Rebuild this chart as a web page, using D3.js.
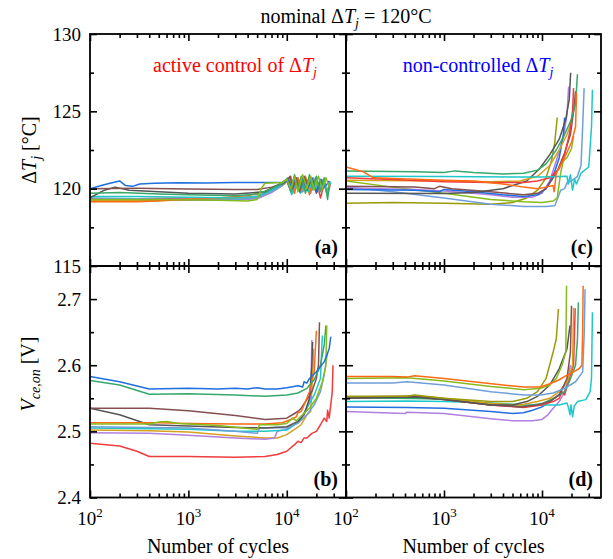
<!DOCTYPE html>
<html><head><meta charset="utf-8">
<script src="https://cdn.jsdelivr.net/npm/d3@7"></script>
<style>body{margin:0;background:#fff} svg text, svg tspan{font-family:"Liberation Serif","Times New Roman",serif !important}</style>
</head><body><svg id="c" width="613" height="559" font-family="Liberation Serif"></svg>
<script>
// ---------- data: [cycles, value] ----------
// (a) active control, ΔTj [°C]
const a_blue=[[100,120.0],[130,120.2],[160,120.35],[200,120.5],[230,120.2],[270,120.15],[320,120.3],[450,120.35],[800,120.38],[1500,120.37],[3000,120.4],[6000,120.4],[9000,120.42],[10500,120.55],[11000,120.1],[12000,120.7],[13000,119.9],[14500,120.6],[16000,120.0],[18000,120.7],[20000,119.8],[22000,120.6],[24500,120.1],[27000,120.5]];
const a_brown=[[100,120.0],[300,120.02],[1000,119.98],[3000,119.95],[5000,119.95],[7000,120.1],[9000,120.3],[10000,120.5],[10800,120.8],[11500,120.0],[12500,120.7],[13500,119.8],[15000,120.8],[16500,120.1],[18000,120.6],[20000,119.7],[22000,120.5],[23500,120.0]];
const a_grey=[[100,119.4],[140,119.9],[180,120.1],[250,119.9],[500,119.8],[1000,119.7],[3000,119.65],[6000,119.8],[8500,120.3],[10000,120.6],[11000,119.9],[12000,120.8],[13000,120.0],[14500,120.7],[16000,119.9],[17500,120.6],[19000,120.1]];
const a_green=[[100,119.7],[200,119.75],[500,119.65],[1000,119.6],[3000,119.55],[5000,119.65],[7000,120.0],[9000,120.35],[10000,120.6],[11000,119.8],[12000,120.9],[13000,119.9],[14000,120.8],[15500,119.7],[17000,120.9],[18500,120.0],[20000,120.8],[22000,119.8],[24000,120.7],[26000,119.3],[27000,120.2]];
const a_cyan=[[100,119.5],[300,119.5],[1000,119.45],[3000,119.4],[5000,119.5],[7000,119.9],[9000,120.3],[10200,120.7],[11200,119.6],[12300,120.6],[13800,119.7],[15000,120.5],[16500,119.8],[18500,120.6],[20500,119.9],[23000,120.5],[25500,119.8],[28000,120.4]];
const a_steel=[[100,119.4],[300,119.35],[1000,119.3],[3000,119.3],[5000,119.4],[7000,119.8],[9000,120.2],[10500,120.6],[11500,119.7],[13000,120.7],[14500,119.8],[16000,120.6],[17500,119.7],[19500,120.7],[21500,120.0],[23500,120.6],[25500,119.7],[27500,120.5]];
const a_purple=[[100,119.3],[300,119.3],[1000,119.25],[3000,119.25],[5000,119.35],[7000,119.75],[9000,120.2],[10000,120.5],[11000,119.8],[12500,120.6],[14000,119.9],[15500,120.7],[17000,120.0],[19000,120.6],[21000,119.8],[23000,120.4]];
const a_gold=[[100,119.25],[400,119.2],[1000,119.3],[3000,119.35],[5500,119.5],[7500,119.9],[9500,120.3],[10500,120.6],[11500,119.9],[12500,120.7],[14000,119.8],[15500,120.6],[17500,119.9],[19500,120.5],[22000,119.9],[24000,120.5]];
const a_orange=[[100,119.15],[300,119.15],[1000,119.3],[2000,119.4],[4000,119.55],[6000,119.8],[8000,120.2],[10000,120.5],[11000,120.8],[12000,119.7],[13000,120.7],[14200,119.9],[15500,120.8],[17000,119.6],[18500,120.7],[20500,119.8],[22500,120.6],[25000,120.0]];
const a_lime=[[100,119.3],[500,119.3],[2000,119.25],[4000,119.2],[5000,119.3],[5500,120.0],[6000,120.35],[9000,120.4],[10000,120.6],[11000,120.0],[12000,120.8],[13000,119.8],[14500,120.9],[16000,120.0],[17500,120.8],[19000,119.9],[21000,120.8],[23000,120.0],[25000,120.7],[27000,120.1]];
const a_red=[[100,119.35],[300,119.35],[1000,119.4],[3000,119.4],[5000,119.5],[7000,119.9],[9000,120.25],[10500,120.6],[11500,119.9],[13000,120.6],[14500,119.8],[16000,120.5],[18000,120.0],[20000,120.6],[22000,119.4],[24000,120.3],[26000,119.6],[28000,120.4]];
const a_olive=[[100,119.2],[300,119.2],[1000,119.3],[3000,119.35],[5000,119.45],[7000,119.85],[9000,120.25],[10000,120.5],[11000,119.9],[12500,120.6],[14000,119.8],[16000,120.5],[18000,119.9],[20000,120.4]];

// (c) non-controlled, ΔTj [°C]
const c_orange=[[100,121.4],[150,121.1],[190,120.7],[300,120.65],[1000,120.55],[2000,120.5],[4000,120.3],[6500,120.1],[9000,120.0],[11000,120.1],[13000,120.2],[13300,119.8],[14000,121.0],[17000,122.0],[20000,123.0],[22000,124.0],[22500,126.2]];
const c_green=[[100,121.15],[500,121.1],[1000,121.05],[1300,121.15],[2000,121.05],[4000,120.95],[6500,121.0],[9000,121.2],[11000,121.6],[14000,122.5],[17000,123.5],[20000,124.5],[22000,125.5],[23000,127.4]];
const c_cyan=[[100,120.8],[1000,120.78],[5000,120.75],[10000,120.75],[15000,120.78],[18000,120.8],[18500,120.3],[19500,120.9],[20500,119.9],[21500,120.6],[22500,120.3],[25000,121.0],[30000,121.4],[32000,124.0],[32700,126.4]];
const c_red=[[100,120.7],[300,120.6],[1000,120.45],[3000,120.4],[6500,120.4],[9000,120.5],[12000,120.7],[15000,121.3],[17000,122.2],[19000,123.5],[20500,125.0],[21000,126.5]];
const c_gold=[[100,120.55],[1000,120.5],[3000,120.45],[6000,120.5],[9000,120.8],[12000,121.5],[15000,122.5],[18000,123.5],[20000,124.3]];
const c_brown=[[100,120.15],[500,120.1],[800,120.0],[900,120.15],[1200,120.0],[3000,119.8],[6500,119.6],[9000,119.7],[11000,120.0],[14000,121.0],[17000,122.3],[19500,123.5],[21000,125.0],[22000,126.3]];
const c_blue=[[100,119.95],[500,119.9],[900,119.8],[1000,119.95],[2000,119.8],[4000,119.6],[6500,119.5],[9000,119.6],[11000,120.0],[13000,120.8],[15000,122.0],[16500,123.5],[17000,124.6]];
const c_grey=[[100,119.7],[1000,119.68],[2000,119.75],[4000,120.0],[7000,120.5],[9500,121.3],[12000,122.2],[15000,123.2],[17500,124.5],[19000,125.8],[19600,127.5]];
const c_purple=[[100,120.05],[500,119.95],[1000,119.85],[3000,119.6],[5000,119.45],[8000,119.45],[10000,119.7],[12000,120.5],[14000,121.8],[16500,123.3],[18000,124.8],[18700,126.6]];
const c_lime=[[100,120.5],[300,120.1],[1000,119.7],[3000,119.3],[6500,119.15],[10000,119.1],[13000,119.2],[14300,119.4],[15500,121.0],[16500,121.8],[18000,122.0],[20000,122.6],[21000,123.4]];
const c_steel=[[100,120.1],[300,119.8],[1000,119.4],[3000,119.0],[6500,118.85],[11000,118.85],[13500,118.9],[14300,119.3],[15500,119.9],[17000,120.0],[18000,120.4],[20000,120.5],[23000,120.8],[25000,121.5],[26000,124.0],[26900,126.5]];
const c_olive=[[100,119.05],[300,119.1],[1000,119.05],[3000,119.0],[5000,119.1],[7000,119.4],[9000,119.9],[11000,120.7],[12500,121.8],[13500,123.0],[14300,124.6]];

// (b) active control, Vce,on [V]
const b_blue=[[100,2.583],[200,2.575],[400,2.564],[1000,2.565],[2000,2.564],[3000,2.565],[4000,2.564],[5000,2.566],[6000,2.564],[8000,2.564],[10000,2.566],[13000,2.569],[14500,2.567],[15000,2.575],[16000,2.573],[17000,2.58],[20000,2.59],[24000,2.605],[27000,2.625],[28000,2.643]];
const b_green=[[100,2.577],[200,2.57],[400,2.556],[1000,2.557],[3000,2.555],[6000,2.553],[10000,2.555],[13000,2.558],[16000,2.565],[19000,2.578],[22000,2.6],[24000,2.63],[25000,2.66]];
const b_brown=[[100,2.535],[400,2.535],[1000,2.531],[3000,2.524],[6000,2.518],[10000,2.52],[12000,2.527],[13000,2.53],[14000,2.535],[16000,2.548],[18000,2.56],[20000,2.58],[21000,2.6],[21500,2.665]];
const b_grey=[[100,2.535],[200,2.525],[400,2.51],[1000,2.508],[3000,2.506],[6000,2.505],[10000,2.507],[13000,2.515],[15000,2.525],[17000,2.55],[18000,2.6],[18300,2.635]];
const b_orange=[[100,2.513],[500,2.513],[1000,2.512],[3000,2.511],[6000,2.511],[9000,2.513],[11000,2.518],[12500,2.522],[13000,2.528],[14000,2.53],[15000,2.54],[17000,2.56],[19000,2.59],[20000,2.652]];
const b_lime=[[100,2.511],[400,2.511],[500,2.514],[600,2.515],[800,2.512],[2000,2.509],[5000,2.503],[5300,2.51],[8000,2.51],[10000,2.512],[11500,2.52],[12500,2.516],[14000,2.523],[17000,2.535],[20000,2.55],[23000,2.575],[25000,2.6],[25500,2.66]];
const b_steel=[[100,2.507],[400,2.506],[1000,2.505],[3000,2.5],[5000,2.497],[5300,2.505],[8000,2.506],[10000,2.505],[13000,2.512],[16000,2.525],[19000,2.54],[22000,2.56],[24000,2.585],[26000,2.62]];
const b_cyan=[[100,2.505],[400,2.504],[1000,2.503],[3000,2.5],[6000,2.5],[10000,2.502],[12000,2.51],[14000,2.52],[16000,2.535],[19000,2.555],[22000,2.58],[23000,2.645]];
const b_gold=[[100,2.502],[400,2.501],[1000,2.499],[3000,2.493],[6000,2.49],[8000,2.49],[10000,2.495],[12000,2.503],[14000,2.51],[16000,2.525],[17500,2.53],[18500,2.6],[18700,2.625]];
const b_purple=[[100,2.498],[400,2.497],[1000,2.494],[3000,2.49],[6000,2.488],[7500,2.49],[8000,2.5],[10000,2.503],[12000,2.51],[14000,2.52],[16000,2.535],[17500,2.55],[18000,2.638]];
const b_red=[[100,2.482],[200,2.478],[300,2.47],[400,2.462],[1000,2.462],[3000,2.461],[6000,2.462],[8000,2.465],[10000,2.47],[12000,2.48],[13000,2.485],[14000,2.483],[15000,2.49],[16000,2.49],[18000,2.497],[20000,2.5],[22000,2.51],[24000,2.52],[25500,2.515],[26000,2.532],[27000,2.52],[28000,2.54],[29000,2.56],[29500,2.6]];

// (d) non-controlled, Vce,on [V]
const d_orange=[[100,2.583],[300,2.583],[420,2.582],[500,2.584],[1000,2.58],[2000,2.575],[4000,2.57],[6500,2.567],[9700,2.567],[12000,2.572],[15000,2.578],[18000,2.585],[21000,2.59],[24000,2.595],[25500,2.6],[26000,2.65],[26300,2.72]];
const d_lime=[[100,2.58],[420,2.581],[1000,2.576],[3000,2.568],[6500,2.563],[9700,2.565],[12000,2.57],[14000,2.58],[16000,2.6],[17500,2.62],[17800,2.72]];
const d_steel=[[100,2.573],[300,2.573],[420,2.575],[1000,2.57],[3000,2.56],[6500,2.555],[9700,2.555],[13000,2.558],[17000,2.565],[22000,2.575],[26000,2.59],[27000,2.65],[27500,2.715]];
const d_olive=[[100,2.553],[420,2.553],[500,2.555],[1000,2.55],[3000,2.545],[5000,2.545],[7000,2.55],[9000,2.56],[11000,2.58],[13000,2.62],[14000,2.64],[14700,2.685]];
const d_grey=[[100,2.55],[500,2.552],[1000,2.548],[3000,2.54],[5000,2.54],[7000,2.545],[9000,2.553],[12000,2.57],[15000,2.595],[18000,2.625],[19300,2.66]];
const d_brown=[[100,2.552],[500,2.553],[1000,2.548],[3000,2.54],[6000,2.537],[9000,2.54],[12000,2.545],[15000,2.555],[18000,2.58],[19500,2.62],[20000,2.69]];
const d_gold=[[100,2.552],[500,2.553],[1000,2.55],[3000,2.542],[6000,2.54],[9000,2.545],[12000,2.55],[15000,2.56],[18000,2.575],[20500,2.6],[21000,2.687]];
const d_red=[[100,2.55],[500,2.551],[1000,2.548],[3000,2.54],[6500,2.536],[10000,2.54],[13000,2.545],[15000,2.55],[16000,2.56],[17000,2.555],[19000,2.58],[21000,2.6],[21800,2.686]];
const d_green=[[100,2.551],[1000,2.549],[3000,2.542],[6500,2.538],[10000,2.542],[14000,2.552],[17000,2.56],[19000,2.575],[22000,2.6],[23000,2.64],[23500,2.695]];
const d_cyan=[[100,2.545],[420,2.546],[1000,2.545],[3000,2.543],[6500,2.54],[10000,2.54],[15000,2.54],[18000,2.543],[18700,2.535],[19300,2.525],[19800,2.54],[20500,2.522],[21300,2.538],[23000,2.545],[28000,2.548],[31000,2.56],[32000,2.58],[32700,2.68]];
const d_blue=[[100,2.537],[420,2.536],[1000,2.535],[3000,2.53],[5000,2.527],[6500,2.528],[8000,2.532],[10000,2.537],[12000,2.545],[15000,2.556],[17000,2.57]];
const d_purple=[[100,2.53],[400,2.527],[420,2.529],[1000,2.527],[3000,2.519],[5000,2.516],[8000,2.516],[10000,2.518],[11500,2.525],[13000,2.535],[15000,2.545],[17000,2.56],[18500,2.58],[19500,2.6]];

// axis ticks
const xMajor=[100,1000,10000];
const xMinor=[200,300,400,500,600,700,800,900,2000,3000,4000,5000,6000,7000,8000,9000,20000,30000];
const yTopMajor=[115,120,125,130], yTopMinor=[117.5,122.5,127.5];
const yBotMajor=[2.4,2.5,2.6,2.7], yBotMinor=[2.45,2.55,2.65];

// colours
const col={blue:"#1f6fe0",green:"#36a86a",red:"#f03c3c",brown:"#83504f",orange:"#ff6a13",lime:"#86bb1c",gold:"#d6a01e",purple:"#b07fe0",cyan:"#1ec8c8",grey:"#555555",steel:"#6f9fd8",olive:"#9a9a0a"};

const panelA=[["olive",a_olive],["red",a_red],["purple",a_purple],["gold",a_gold],["steel",a_steel],["orange",a_orange],["cyan",a_cyan],["grey",a_grey],["brown",a_brown],["blue",a_blue],["green",a_green],["lime",a_lime]];
const panelB=[["gold",b_gold],["purple",b_purple],["red",b_red],["cyan",b_cyan],["steel",b_steel],["grey",b_grey],["brown",b_brown],["orange",b_orange],["green",b_green],["lime",b_lime],["blue",b_blue]];
const panelC=[["olive",c_olive],["steel",c_steel],["lime",c_lime],["purple",c_purple],["blue",c_blue],["brown",c_brown],["grey",c_grey],["gold",c_gold],["red",c_red],["cyan",c_cyan],["green",c_green],["orange",c_orange]];
const panelD=[["purple",d_purple],["blue",d_blue],["cyan",d_cyan],["red",d_red],["green",d_green],["gold",d_gold],["brown",d_brown],["grey",d_grey],["olive",d_olive],["steel",d_steel],["lime",d_lime],["orange",d_orange]];

// ---------- drawing ----------
const FONT="Liberation Serif";
const svg=d3.select("#c");
const L=[90,346], R=[346,601], T=[34,266], B=[266,497.5];
const xDom=[100,40000];
const xL=d3.scaleLog().domain(xDom).range(L);
const xR=d3.scaleLog().domain(xDom).range(R);
const yT=d3.scaleLinear().domain([115,130]).range([T[1],T[0]]);
const yB=d3.scaleLinear().domain([2.4,2.75]).range([B[1],B[0]]);

function txt(sel){return sel.append("text").attr("font-family",FONT).attr("fill","#000");}

function panel(id,x,y,series,yMaj,yMin,showX,showY,letter){
  const [x0,x1]=x.range(), [y1,y0]=y.range();
  svg.append("clipPath").attr("id","clip"+id).append("rect")
    .attr("x",x0).attr("y",y0).attr("width",x1-x0).attr("height",y1-y0);
  const g=svg.append("g").attr("clip-path","url(#clip"+id+")");
  const line=d3.line().x(d=>x(d[0])).y(d=>y(d[1]));
  series.forEach(([c,d])=>{
    g.append("path").datum(d).attr("d",line).attr("fill","none")
      .attr("stroke",col[c]).attr("stroke-width",1.5).attr("stroke-linejoin","round");
  });
  const ax=svg.append("g");
  const fmt=showY?(v=>d3.format(y===yT?"d":".1f")(v)):(()=>"");
  const mk=(a,tv,size,f)=>a.tickValues(tv).tickSize(-size).tickPadding(9).tickFormat(f||(()=>""));
  ax.append("g").attr("transform",`translate(${x0},0)`).call(mk(d3.axisLeft(y),yMaj,7,fmt));
  ax.append("g").attr("transform",`translate(${x0},0)`).call(mk(d3.axisLeft(y),yMin,4));
  ax.append("g").attr("transform",`translate(${x1},0)`).call(mk(d3.axisRight(y),yMaj,7));
  ax.append("g").attr("transform",`translate(${x1},0)`).call(mk(d3.axisRight(y),yMin,4));
  ax.append("g").attr("transform",`translate(0,${y0})`).call(mk(d3.axisTop(x),xMajor,7));
  ax.append("g").attr("transform",`translate(0,${y0})`).call(mk(d3.axisTop(x),xMinor,4));
  ax.append("g").attr("transform",`translate(0,${y1})`).call(mk(d3.axisBottom(x),xMajor,7));
  ax.append("g").attr("transform",`translate(0,${y1})`).call(mk(d3.axisBottom(x),xMinor,4));
  ax.selectAll("g").attr("font-family",FONT);
  ax.selectAll(".domain").remove();
  ax.selectAll(".tick line").attr("stroke","#000").attr("stroke-width",1.6);
  ax.selectAll(".tick text").attr("font-size",19).attr("font-family",FONT).attr("fill","#000");
  if(showX){
    xMajor.forEach(v=>{
      const t=txt(svg).attr("x",x(v)).attr("y",525).attr("text-anchor","middle").attr("font-size",19);
      t.append("tspan").text("10");
      t.append("tspan").attr("dy",-8).attr("font-size",13).text(Math.round(Math.log10(v)));
    });
  }
  svg.append("rect").attr("x",x0).attr("y",y0).attr("width",x1-x0).attr("height",y1-y0)
    .attr("fill","none").attr("stroke","#000").attr("stroke-width",1.8);
  txt(svg).attr("x",x1-8).attr("y",y1-12).attr("text-anchor","end")
    .attr("font-size",20).attr("font-weight","bold").text("("+letter+")");
}
panel("a",xL,yT,panelA,yTopMajor,yTopMinor,false,true,"a");
panel("c",xR,yT,panelC,yTopMajor,yTopMinor,false,false,"c");
panel("b",xL,yB,panelB,yBotMajor,yBotMinor,true,true,"b");
panel("d",xR,yB,panelD,yBotMajor,yBotMinor,true,false,"d");

// titles
function deltaTj(t,subSize){
  t.append("tspan").text("\u0394");
  t.append("tspan").attr("font-style","italic").text("T");
  t.append("tspan").attr("font-style","italic").attr("font-size",subSize).attr("dy",5).text("j");
}
let t=txt(svg).attr("x",346).attr("y",23).attr("text-anchor","middle").attr("font-size",20);
t.append("tspan").text("nominal "); deltaTj(t,14); t.append("tspan").attr("dy",-5).text(" = 120\u00B0C");

t=txt(svg).attr("x",235).attr("y",72).attr("text-anchor","middle").attr("font-size",20).attr("fill","#ff0000");
t.append("tspan").text("active control of "); deltaTj(t,14);
t=txt(svg).attr("x",478).attr("y",72).attr("text-anchor","middle").attr("font-size",20).attr("fill","#0000ff");
t.append("tspan").text("non-controlled "); deltaTj(t,14);

[218,473.5].forEach(cx=>txt(svg).attr("x",cx).attr("y",553).attr("text-anchor","middle").attr("font-size",20).text("Number of cycles"));

t=txt(svg).attr("transform","translate(36,150) rotate(-90)").attr("text-anchor","middle").attr("font-size",20);
deltaTj(t,14); t.append("tspan").attr("dy",-5).text(" [\u00B0C]");
t=txt(svg).attr("transform","translate(35,374) rotate(-90)").attr("text-anchor","middle").attr("font-size",20);
t.append("tspan").attr("font-style","italic").text("V");
t.append("tspan").attr("font-style","italic").attr("font-size",14).attr("dy",5).text("ce,on");
t.append("tspan").attr("dy",-5).text(" [V]");
</script></body></html>
